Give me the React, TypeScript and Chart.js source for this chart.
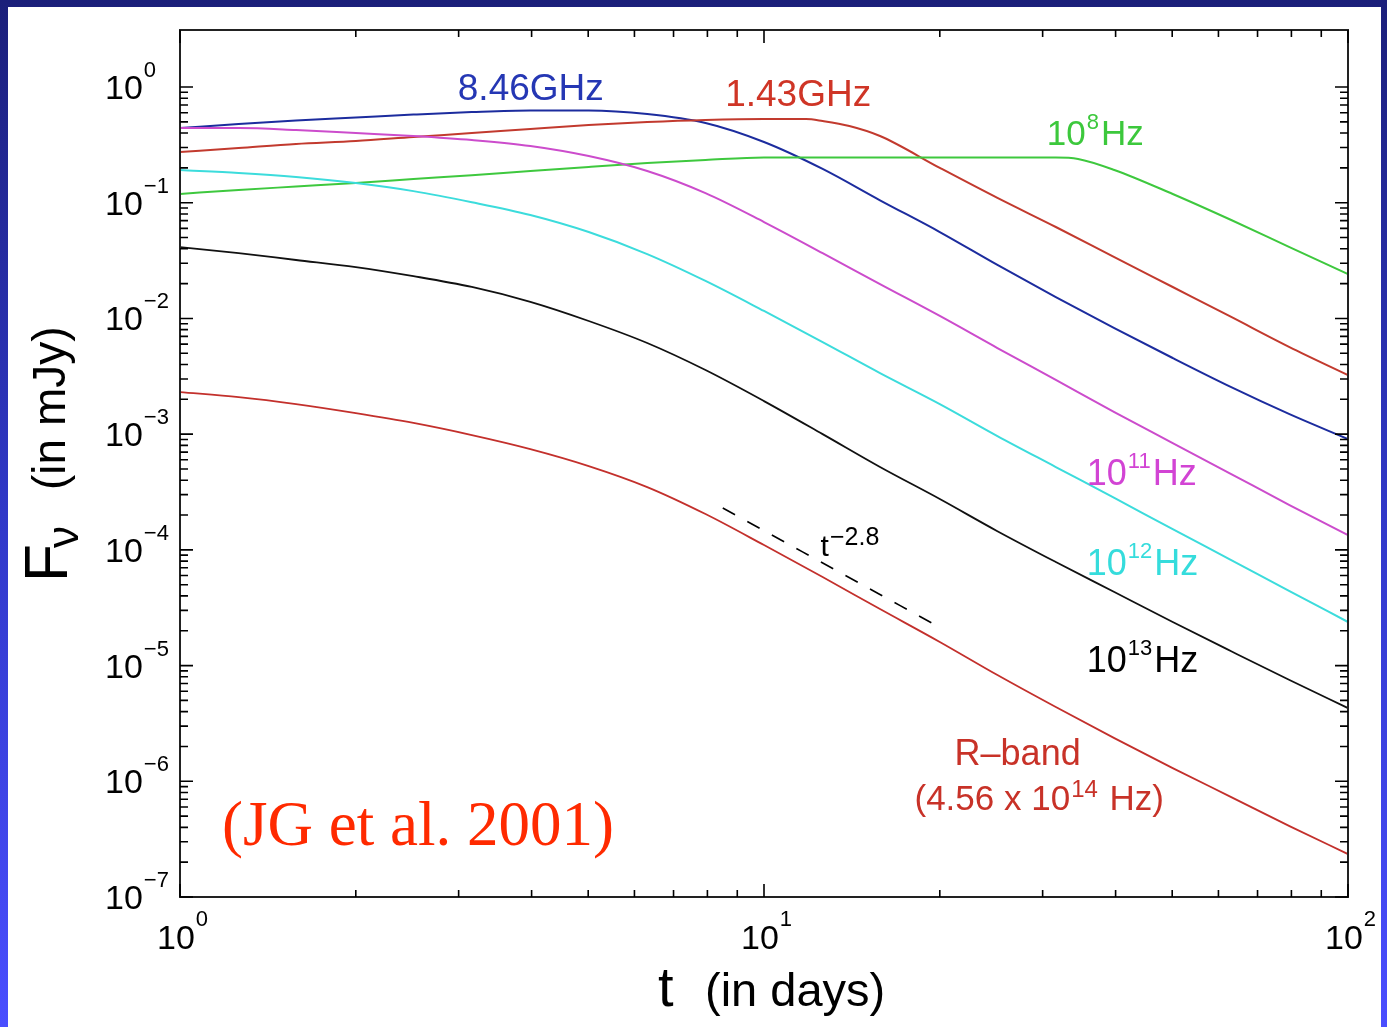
import React, { useEffect, useRef } from "react";
import { Chart, registerables } from "chart.js";

Chart.register(...registerables);

// ---------- data ----------
const tDays = [1, 1.26, 1.58, 2, 2.51, 3.16, 3.98, 5.01, 6.31, 7.94, 10, 12.6, 15.8, 20, 25.1, 31.6, 39.8, 50.1, 63.1, 79.4, 100];

const fBlue846GHz = [0.442, 0.479, 0.513, 0.545, 0.578, 0.608, 0.627, 0.627, 0.584, 0.489, 0.335, 0.196, 0.105, 0.0558, 0.029, 0.0153, 0.00826, 0.00455, 0.00255, 0.00149, 0.000907];

const tRed143GHz = [1, 1.26, 1.58, 2, 2.51, 3.16, 3.98, 5.01, 6.31, 7.94, 10, 11.8, 12.6, 14, 15.8, 20, 25.1, 31.6, 39.8, 50.1, 63.1, 79.4, 100];
const fRed143GHz = [0.274, 0.297, 0.322, 0.341, 0.37, 0.4, 0.434, 0.469, 0.498, 0.519, 0.529, 0.529, 0.508, 0.46, 0.377, 0.2, 0.11, 0.0617, 0.0339, 0.0187, 0.0103, 0.00566, 0.00324];

const tGreen1e8Hz = [1, 1.26, 1.58, 2, 2.51, 3.16, 3.98, 5.01, 6.31, 7.94, 10, 12.6, 15.8, 20, 25.1, 31.6, 34.5, 39.8, 50.1, 63.1, 79.4, 100];
const fGreen1e8Hz = [0.119, 0.129, 0.138, 0.148, 0.16, 0.173, 0.188, 0.204, 0.22, 0.234, 0.246, 0.246, 0.246, 0.246, 0.246, 0.246, 0.239, 0.192, 0.119, 0.0709, 0.0414, 0.0242];

const fMagenta1e11Hz = [0.442, 0.442, 0.425, 0.4, 0.377, 0.348, 0.309, 0.253, 0.188, 0.121, 0.0681, 0.0367, 0.0198, 0.0105, 0.00555, 0.00294, 0.00155, 0.000838, 0.000452, 0.000244, 0.000134];

const fCyan1e12Hz = [0.192, 0.181, 0.167, 0.148, 0.126, 0.101, 0.0783, 0.0558, 0.036, 0.0211, 0.0116, 0.00625, 0.00337, 0.00182, 0.000963, 0.00052, 0.000281, 0.000151, 8.16e-5, 4.4e-5, 2.38e-5];

const fBlack1e13Hz = [0.0414, 0.0367, 0.032, 0.0278, 0.0232, 0.0187, 0.0139, 0.0095, 0.00613, 0.00358, 0.00193, 0.001, 0.00052, 0.000275, 0.000145, 7.85e-5, 4.32e-5, 2.38e-5, 1.33e-5, 7.5e-6, 4.29e-6];

const fRband = [0.00231, 0.00209, 0.00182, 0.00152, 0.00125, 0.000982, 0.000743, 0.00053, 0.000349, 0.000204, 0.00011, 5.82e-5, 3.08e-5, 1.6e-5, 8.28e-6, 4.38e-6, 2.36e-6, 1.3e-6, 7.3e-7, 4.1e-7, 2.35e-7];

const tPowerLaw = [8.5, 19.8];
const fPowerLaw = [2.3e-4, 2.2e-5];

const xTickValues = [1, 10, 100];
const xTickExps = ["0", "1", "2"];
const yTickValues = [1, 1e-1, 1e-2, 1e-3, 1e-4, 1e-5, 1e-6, 1e-7];
const yTickExps = ["0", "\u22121", "\u22122", "\u22123", "\u22124", "\u22125", "\u22126", "\u22127"];
const minorMultipliers = [2, 3, 4, 5, 6, 7, 8, 9];

const X_MIN = 1;
const X_MAX = 100;
const Y_MIN = 1e-7;
const Y_MAX = 3.11;

// ---------- drawing helpers ----------
const SANS = "'Liberation Sans', Arial, Helvetica, sans-serif";
const SERIF = "'Liberation Serif', 'Times New Roman', serif";

type Part = [string, "n" | "s"];

function drawRich(
  ctx: CanvasRenderingContext2D,
  x: number,
  y: number,
  parts: Part[],
  size: number,
  supSize: number,
  raise: number,
  color: string
) {
  ctx.fillStyle = color;
  ctx.textAlign = "left";
  ctx.textBaseline = "alphabetic";
  let cx = x;
  for (const [txt, kind] of parts) {
    if (kind === "s") {
      ctx.font = `${supSize}px ${SANS}`;
      ctx.fillText(txt, cx + 1, y - raise);
      cx += ctx.measureText(txt).width + 3;
    } else {
      ctx.font = `${size}px ${SANS}`;
      ctx.fillText(txt, cx, y);
      cx += ctx.measureText(txt).width;
    }
  }
}

const decorPlugin = {
  id: "decor",
  beforeDraw(chart: any) {
    const { ctx, width, height } = chart;
    ctx.save();
    const g = ctx.createLinearGradient(0, 0, 0, height);
    g.addColorStop(0, "#1b1f7a");
    g.addColorStop(0.5, "#3038c8");
    g.addColorStop(1, "#4a4eff");
    ctx.fillStyle = g;
    ctx.fillRect(0, 0, width, height);
    ctx.fillStyle = "#ffffff";
    ctx.fillRect(8, 7, 1373, height - 7);
    ctx.restore();
  },
  afterDraw(chart: any) {
    const { ctx, chartArea } = chart;
    const xs = chart.scales.x;
    const ys = chart.scales.y;
    const { left, right, top, bottom } = chartArea;
    ctx.save();

    // frame
    ctx.strokeStyle = "#222";
    ctx.lineWidth = 2;
    ctx.strokeRect(left, top, right - left, bottom - top);

    // ticks
    ctx.strokeStyle = "#000";
    ctx.lineWidth = 1.6;
    ctx.beginPath();
    xTickValues.forEach((v, i) => {
      const px = xs.getPixelForValue(v);
      ctx.moveTo(px, bottom);
      ctx.lineTo(px, bottom - 13);
      ctx.moveTo(px, top);
      ctx.lineTo(px, top + 13);
      if (i < xTickValues.length - 1) {
        minorMultipliers.forEach((m) => {
          const p = xs.getPixelForValue(v * m);
          ctx.moveTo(p, bottom);
          ctx.lineTo(p, bottom - 7);
          ctx.moveTo(p, top);
          ctx.lineTo(p, top + 7);
        });
      }
    });
    yTickValues.forEach((v, i) => {
      const py = ys.getPixelForValue(v);
      ctx.moveTo(left, py);
      ctx.lineTo(left + 13, py);
      ctx.moveTo(right, py);
      ctx.lineTo(right - 13, py);
      if (i > 0) {
        minorMultipliers.forEach((m) => {
          const p = ys.getPixelForValue(v * m);
          ctx.moveTo(left, p);
          ctx.lineTo(left + 8, p);
          ctx.moveTo(right, p);
          ctx.lineTo(right - 8, p);
        });
      }
    });
    ctx.stroke();

    // tick labels
    yTickValues.forEach((v, i) => {
      const py = ys.getPixelForValue(v);
      drawRich(ctx, left - 75, py + 12, [["10", "n"], [yTickExps[i], "s"]], 34, 22, 22, "#000");
    });
    xTickValues.forEach((v, i) => {
      const px = xs.getPixelForValue(v);
      drawRich(ctx, px - 23, bottom + 52, [["10", "n"], [xTickExps[i], "s"]], 34, 22, 23, "#000");
    });

    // x title
    ctx.fillStyle = "#000";
    ctx.textAlign = "left";
    ctx.font = `56px ${SANS}`;
    ctx.fillText("t", 658, 1006);
    ctx.font = `47px ${SANS}`;
    ctx.fillText("(in days)", 705, 1006);

    // y title (rotated)
    ctx.save();
    ctx.translate(67, 582);
    ctx.rotate(-Math.PI / 2);
    ctx.font = `62px ${SANS}`;
    ctx.fillText("F", 0, 0);
    ctx.font = `44px ${SANS}`;
    ctx.fillText("\u03bd", 34, 11);
    ctx.font = `46px ${SANS}`;
    ctx.fillText("(in mJy)", 92, -2);
    ctx.restore();

    // curve labels, anchored in data coordinates
    const at = (t: number, f: number) => [xs.getPixelForValue(t), ys.getPixelForValue(f)];
    let p = at(2.99, 0.772);
    drawRich(ctx, p[0], p[1], [["8.46GHz", "n"]], 37, 22, 18, "#2537b4");
    p = at(8.58, 0.685);
    drawRich(ctx, p[0], p[1], [["1.43GHz", "n"]], 37, 22, 18, "#cf3526");
    p = at(30.5, 0.315);
    drawRich(ctx, p[0], p[1], [["10", "n"], ["8", "s"], ["Hz", "n"]], 35, 22, 16, "#3cc83c");
    p = at(35.7, 3.63e-4);
    drawRich(ctx, p[0], p[1], [["10", "n"], ["11", "s"], ["Hz", "n"]], 36, 22, 17, "#d244d4");
    p = at(35.7, 6.05e-5);
    drawRich(ctx, p[0], p[1], [["10", "n"], ["12", "s"], ["Hz", "n"]], 36, 22, 17, "#35dcdc");
    p = at(35.7, 8.79e-6);
    drawRich(ctx, p[0], p[1], [["10", "n"], ["13", "s"], ["Hz", "n"]], 36, 22, 17, "#000");
    p = at(21.2, 1.38e-6);
    drawRich(ctx, p[0], p[1], [["R\u2013band", "n"]], 36, 22, 17, "#c83228");
    p = at(18.1, 5.64e-7);
    drawRich(ctx, p[0], p[1], [["(4.56 x 10", "n"], ["14", "s"], [" Hz)", "n"]], 35, 24, 13, "#c83228");
    p = at(12.5, 8.83e-5);
    drawRich(ctx, p[0], p[1], [["t", "n"], ["\u22122.8", "s"]], 30, 25, 11, "#000");

    p = at(1.18, 2.81e-7);
    ctx.fillStyle = "#ff2a00";
    ctx.font = `63px ${SERIF}`;
    ctx.fillText("(JG et al. 2001)", p[0], p[1]);

    ctx.restore();
  },
};

function series(ts: number[], fs: number[]) {
  return ts.map((t, i) => ({ x: t, y: fs[i] }));
}

export default function App() {
  const ref = useRef<HTMLCanvasElement | null>(null);

  useEffect(() => {
    document.body.style.margin = "0";
    document.body.style.overflow = "hidden";
    const canvas = ref.current;
    if (!canvas) return;
    const line = (data: any[], color: string, width = 2, dash: number[] = []) => ({
      data,
      borderColor: color,
      borderWidth: width,
      borderDash: dash,
      pointRadius: 0,
      fill: false,
      cubicInterpolationMode: "monotone" as const,
    });
    const chart = new Chart(canvas, {
      type: "line",
      data: {
        datasets: [
          line(series(tDays, fRband), "#c3302c", 1.8),
          line(series(tDays, fBlack1e13Hz), "#111111", 1.8),
          line(series(tDays, fCyan1e12Hz), "#3cdcdc", 2),
          line(series(tDays, fMagenta1e11Hz), "#cc4ccc", 2),
          line(series(tGreen1e8Hz, fGreen1e8Hz), "#3ec83e", 2),
          line(series(tRed143GHz, fRed143GHz), "#c23a2e", 2),
          line(series(tDays, fBlue846GHz), "#1c2c9e", 2),
          line(series(tPowerLaw, fPowerLaw), "#000000", 1.6, [14, 14]),
        ],
      },
      options: {
        animation: false,
        responsive: false,
        maintainAspectRatio: false,
        events: [],
        layout: { padding: { left: 180, top: 30, right: 39, bottom: 130 } },
        plugins: { legend: { display: false }, tooltip: { enabled: false } },
        scales: {
          x: { type: "logarithmic", min: X_MIN, max: X_MAX, display: false },
          y: { type: "logarithmic", min: Y_MIN, max: Y_MAX, display: false },
        },
      },
      plugins: [decorPlugin],
    });
    return () => chart.destroy();
  }, []);

  return (
    <div style={{ position: "absolute", left: 0, top: 0, width: 1387, height: 1027 }}>
      <canvas ref={ref} width={1387} height={1027} style={{ display: "block" }} />
    </div>
  );
}
